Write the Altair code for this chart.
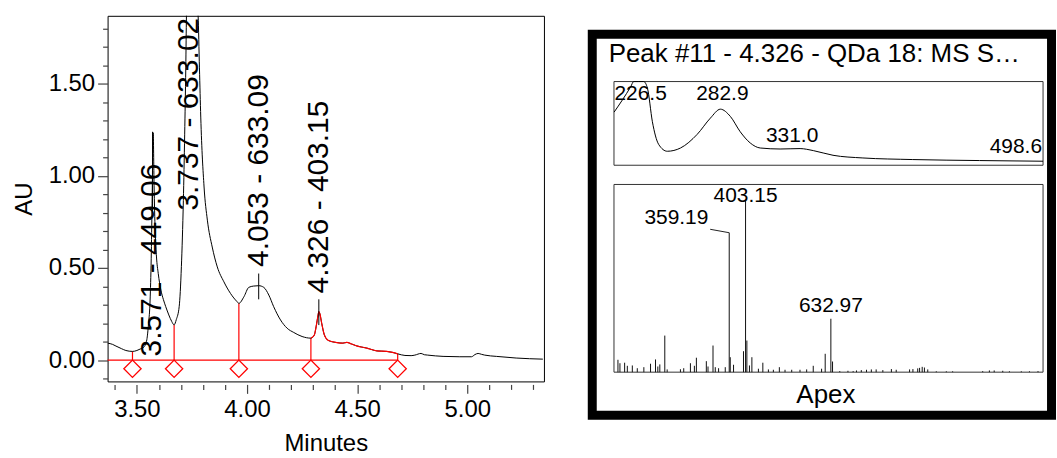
import altair as alt
import pandas as pd

FONT = "Liberation Sans"

# ---------------- chromatogram (left panel) ----------------
rt = [3.367, 3.39, 3.405, 3.43, 3.45, 3.48, 3.50, 3.515, 3.533, 3.545, 3.553, 3.56,
      3.565, 3.569, 3.574, 3.578, 3.583, 3.589, 3.597, 3.609, 3.62, 3.631, 3.645,
      3.658, 3.669, 3.679, 3.692, 3.702, 3.711, 3.717, 3.722, 3.725, 3.737, 3.75,
      3.765, 3.778, 3.784, 3.79, 3.805, 3.82, 3.842, 3.865, 3.895, 3.925, 3.955,
      3.963, 3.986, 4.008, 4.03, 4.053, 4.076, 4.099, 4.121, 4.152, 4.182, 4.212,
      4.25, 4.29, 4.305, 4.315, 4.322, 4.326, 4.331, 4.339, 4.351, 4.37, 4.408,
      4.435, 4.453, 4.475, 4.498, 4.544, 4.589, 4.634, 4.66, 4.684, 4.717, 4.745,
      4.762, 4.79, 4.805, 4.82, 4.89, 4.966, 5.019, 5.035, 5.049, 5.065, 5.079,
      5.132, 5.222, 5.343]
au = [0.092, 0.085, 0.076, 0.062, 0.052, 0.047, 0.052, 0.060, 0.072, 0.110, 0.200, 0.326,
      0.55, 0.85, 1.235, 0.95, 0.70, 0.56, 0.47, 0.38, 0.33, 0.29, 0.245,
      0.21, 0.191, 0.22, 0.29, 0.507, 0.866, 1.227, 1.587, 1.87, 2.30, 2.25,
      2.05, 1.87, 1.587, 1.32, 0.94, 0.76, 0.614, 0.506, 0.425, 0.362, 0.317,
      0.308, 0.344, 0.395, 0.402, 0.404, 0.395, 0.353, 0.29, 0.218, 0.173, 0.15,
      0.128, 0.119, 0.135, 0.19, 0.24, 0.263, 0.25, 0.20, 0.137, 0.106, 0.095,
      0.092, 0.096, 0.087, 0.077, 0.065, 0.05, 0.047, 0.042, 0.034, 0.025, 0.024,
      0.027, 0.036, 0.029, 0.027, 0.02, 0.018, 0.018, 0.03, 0.036, 0.031, 0.027,
      0.02, 0.011, 0.005]

peak_rt = [3.571, 3.737, 4.053, 4.326]
peak_names = ["3.571 - 449.06", "3.737 - 633.02", "4.053 - 633.09", "4.326 - 403.15"]
peak_label_au = [0.02, 0.812, 0.506, 0.362]

apex_rt = [3.571, 4.053, 4.326]
apex_lo = [0.80, 0.33, 0.19]
apex_hi = [1.24, 0.47, 0.33]

bound_rt = [3.48, 3.669, 3.963, 4.29, 4.684]
bound_au = [0.047, 0.191, 0.308, 0.119, 0.034]
marker_au = -0.047

x_ticks = [3.4, 3.5, 3.6, 3.7, 3.8, 3.9, 4.0, 4.1, 4.2, 4.3, 4.4, 4.5, 4.6, 4.7,
           4.8, 4.9, 5.0, 5.1, 5.2, 5.3]
y_ticks = [-0.1, 0.0, 0.1, 0.2, 0.3, 0.4, 0.5, 0.6, 0.7, 0.8, 0.9, 1.0, 1.1, 1.2,
           1.3, 1.4, 1.5, 1.6, 1.7, 1.8]

X_DOM = [3.367, 5.348]
Y_DOM = [-0.116, 1.870]

# ---------------- UV spectrum (right panel, top) ----------------
uv_nm = [209.6, 221.1, 223.1, 226.6, 230.0, 232.6, 236.0, 240.3, 246.3, 255.4, 266.9,
         276.0, 282.9, 289.8, 296.6, 303.5, 310.4, 324.1, 337.9, 347.0, 360.6, 381.2,
         415.6, 461.6, 505.5]
uv_abs = [0.635, 0.94, 1.0, 1.15, 1.0, 0.92, 0.52, 0.25, 0.167, 0.206, 0.369,
          0.563, 0.67, 0.583, 0.40, 0.266, 0.206, 0.194, 0.199, 0.175, 0.119, 0.087,
          0.068, 0.056, 0.048]
uv_label_nm = [226.5, 282.9, 331.0]
uv_label_text = ["226.5", "282.9", "331.0"]
uv_label_abs = [0.782, 0.782, 0.277]
uv_end_label_nm = [498.6]
uv_end_label_text = ["498.6"]
uv_end_label_abs = [0.146]
UV_DOM = [209.5, 505.5]

# ---------------- MS spectrum (right panel, bottom) ----------------
ms_mz = [59.4, 64.8, 77.4, 84.7, 98.1, 111.5, 129.2, 147.2, 160.6, 166.8, 172.2, 185.6,
         192.0, 227.7, 236.6, 254.6, 265.3, 270.7, 297.5, 302.0, 315.5, 321.6, 330.5,
         348.5, 359.19, 361.9, 370.8, 397.6, 403.15, 406.7, 413.7, 420.2, 437.8, 449.7,
         464.7, 478.1, 494.2, 509.5, 527.5, 549.8, 567.8, 585.5, 608.0, 617.7, 632.97,
         637.5, 657.0, 679.0, 693.0, 702.0, 715.0, 729.0, 742.0, 755.0, 773.0, 796.0,
         809.0, 845.0, 854.0, 867.0, 872.0, 879.0, 885.0, 894.0, 917.0, 944.0, 961.0,
         1042.0, 1060.0, 1073.0, 1096.0, 1114.0, 1146.0, 1168.0, 1191.0]
ms_int = [7.2, 5.2, 5.5, 3.7, 3.9, 2.3, 2.9, 4.9, 7.4, 3.3, 4.5, 21.3,
          1.6, 1.7, 2.3, 5.2, 3.7, 8.4, 6.4, 3.3, 15.5, 2.9, 2.3,
          2.9, 81.2, 8.7, 4.3, 12.2, 100.0, 18.4, 3.9, 8.7, 2.0, 5.5,
          1.6, 1.4, 2.9, 1.4, 1.4, 1.4, 1.6, 3.7, 2.0, 10.7, 31.1,
          6.2, 0.6, 0.8, 0.6, 1.0, 1.2, 1.4, 1.6, 1.6, 1.2, 1.8,
          1.4, 1.6, 1.8, 2.2, 2.5, 3.1, 2.7, 1.6, 0.5, 0.5, 0.5,
          0.6, 1.0, 1.0, 0.8, 0.5, 0.5, 0.5, 0.6]
ms_label_mz = [403.15, 632.97]
ms_label_text = ["403.15", "632.97"]
ms_label_int = [99.0, 34.8]
ms_side_label_mz = [302.9]
ms_side_label_text = ["359.19"]
ms_side_label_int = [86.1]
ms_leader_mz = [307.9, 359.19]
ms_leader_int = [83.2, 81.2]
MS_DOM = [48.7, 1204.6]
MS_INT_DOM = [0, 109.3]

panel_title = "Peak #11 - 4.326 - QDa 18: MS S\u2026"

# ================= left chart =================
xsc = alt.Scale(domain=X_DOM, nice=False, zero=False)
ysc = alt.Scale(domain=Y_DOM, nice=False, zero=False)
x_major = "abs(datum.value * 2 - round(datum.value * 2)) < 0.01"

x_axis = alt.Axis(values=x_ticks, title="Minutes", grid=False, domain=False, offset=3,
                  labelExpr=f"{x_major} ? format(datum.value, '.2f') : ''",
                  tickSize={"condition": {"test": x_major, "value": 9}, "value": 5},
                  tickColor="#444", tickWidth=1.2, labelFontSize=24, titleFontSize=24,
                  titleFontWeight="normal", labelColor="black", titleColor="black",
                  labelPadding=4, titlePadding=10, labelOverlap=False, labelFlush=False)
y_axis = alt.Axis(values=y_ticks, title="AU", grid=False, domain=False,
                  labelExpr=f"{x_major} ? format(datum.value, '.2f') : ''",
                  tickSize={"condition": {"test": x_major, "value": 10}, "value": 5},
                  tickColor="#444", tickWidth=1.2, labelFontSize=24, titleFontSize=24,
                  titleFontWeight="normal", labelColor="black", titleColor="black",
                  labelPadding=3, titlePadding=12, labelOverlap=False, labelFlush=False)

trace_df = pd.DataFrame({"t": rt, "au": au})
X = alt.X("t:Q", scale=xsc, axis=x_axis)
Y = alt.Y("au:Q", scale=ysc, axis=y_axis)

baseline = alt.Chart(pd.DataFrame({"t": [X_DOM[0]], "t2": [bound_rt[-1]], "au": [0.0]})).mark_rule(
    color="red", strokeWidth=1.2).encode(x=X, x2="t2:Q", y=Y)
drops = alt.Chart(pd.DataFrame({"t": bound_rt, "au": [0.0] * len(bound_rt), "top": bound_au})).mark_rule(
    color="red", strokeWidth=1.2).encode(x=X, y=Y, y2="top:Q")
diamonds = alt.Chart(pd.DataFrame({"t": bound_rt, "au": [marker_au] * len(bound_rt)})).mark_point(
    shape="diamond", filled=False, color="red", size=300, strokeWidth=1.3, opacity=1).encode(x=X, y=Y)
trace = alt.Chart(trace_df).mark_line(color="black", strokeWidth=1, clip=True,
                                      interpolate="monotone").encode(x=X, y=Y)
trace_red = alt.Chart(trace_df).transform_filter(
    f"datum.t >= {bound_rt[3]} && datum.t <= {bound_rt[4]}").mark_line(
    color="red", strokeWidth=1.2, interpolate="monotone").encode(x=X, y=Y)
apex = alt.Chart(pd.DataFrame({"t": apex_rt, "au": apex_lo, "hi": apex_hi})).mark_rule(
    color="black", strokeWidth=1).encode(x=X, y=Y, y2="hi:Q")
labels = alt.Chart(pd.DataFrame({"t": peak_rt, "au": peak_label_au, "name": peak_names})).mark_text(
    angle=270, align="left", baseline="middle", fontSize=30, color="black").encode(
    x=X, y=Y, text="name:N")

left = alt.layer(baseline, drops, diamonds, trace, trace_red, apex, labels).properties(
    width=438, height=367, view=alt.ViewBackground(stroke="black", strokeWidth=1))

# ================= right chart =================
one = pd.DataFrame({"k": [0]})
uvx = alt.Scale(domain=UV_DOM, range=[38.3, 469], nice=False, zero=False)
uvy = alt.Scale(domain=[0, 1], range=[150, 66], nice=False, zero=False, clamp=True)
msx = alt.Scale(domain=MS_DOM, range=[38.3, 469], nice=False, zero=False)
msy = alt.Scale(domain=MS_INT_DOM, range=[357.7, 169.3], nice=False, zero=False)

frame = alt.Chart(one).mark_rect(fillOpacity=0, stroke="black", strokeWidth=9).encode(
    x=alt.value(16.5), x2=alt.value(477.5), y=alt.value(18.5), y2=alt.value(401))
title = alt.Chart(one).mark_text(align="left", baseline="alphabetic", fontSize=26, color="black").encode(
    x=alt.value(33), y=alt.value(46), text=alt.value(panel_title))
apex_txt = alt.Chart(one).mark_text(align="center", baseline="alphabetic", fontSize=26, color="black").encode(
    x=alt.value(251), y=alt.value(389), text=alt.value("Apex"))

uv_box = alt.Chart(pd.DataFrame({"a": [UV_DOM[0]], "b": [UV_DOM[1]], "c": [0], "d": [1]})).mark_rect(
    fillOpacity=0, stroke="#333", strokeWidth=1).encode(
    x=alt.X("a:Q", scale=uvx, axis=None), x2="b:Q",
    y=alt.Y("c:Q", scale=uvy, axis=None), y2="d:Q")
uv_line = alt.Chart(pd.DataFrame({"nm": uv_nm, "a": uv_abs})).mark_line(
    color="black", strokeWidth=1, interpolate="monotone").encode(
    x=alt.X("nm:Q", scale=uvx, axis=None), y=alt.Y("a:Q", scale=uvy, axis=None))
uv_lab = alt.Chart(pd.DataFrame({"nm": uv_label_nm, "a": uv_label_abs, "s": uv_label_text})).mark_text(
    align="center", baseline="alphabetic", fontSize=21, color="black", dx=2).encode(
    x=alt.X("nm:Q", scale=uvx, axis=None), y=alt.Y("a:Q", scale=uvy, axis=None), text="s:N")
uv_lab_end = alt.Chart(pd.DataFrame({"nm": uv_end_label_nm, "a": uv_end_label_abs,
                                     "s": uv_end_label_text})).mark_text(
    align="right", baseline="alphabetic", fontSize=21, color="black", dx=9).encode(
    x=alt.X("nm:Q", scale=uvx, axis=None), y=alt.Y("a:Q", scale=uvy, axis=None), text="s:N")

ms_box = alt.Chart(pd.DataFrame({"a": [MS_DOM[0]], "b": [MS_DOM[1]], "c": [MS_INT_DOM[0]],
                                 "d": [MS_INT_DOM[1]]})).mark_rect(
    fillOpacity=0, stroke="#333", strokeWidth=1).encode(
    x=alt.X("a:Q", scale=msx, axis=None), x2="b:Q",
    y=alt.Y("c:Q", scale=msy, axis=None), y2="d:Q")
ms_sticks = alt.Chart(pd.DataFrame({"mz": ms_mz, "z": [0.0] * len(ms_mz), "i": ms_int})).mark_rule(
    color="#111", strokeWidth=1).encode(
    x=alt.X("mz:Q", scale=msx, axis=None), y=alt.Y("z:Q", scale=msy, axis=None), y2="i:Q")
ms_lab = alt.Chart(pd.DataFrame({"mz": ms_label_mz, "i": ms_label_int, "s": ms_label_text})).mark_text(
    align="center", baseline="alphabetic", fontSize=21, color="black").encode(
    x=alt.X("mz:Q", scale=msx, axis=None), y=alt.Y("i:Q", scale=msy, axis=None), text="s:N")
ms_side = alt.Chart(pd.DataFrame({"mz": ms_side_label_mz, "i": ms_side_label_int,
                                  "s": ms_side_label_text})).mark_text(
    align="right", baseline="alphabetic", fontSize=21, color="black").encode(
    x=alt.X("mz:Q", scale=msx, axis=None), y=alt.Y("i:Q", scale=msy, axis=None), text="s:N")
ms_leader = alt.Chart(pd.DataFrame({"mz": ms_leader_mz, "i": ms_leader_int})).mark_line(
    color="#222", strokeWidth=1).encode(
    x=alt.X("mz:Q", scale=msx, axis=None), y=alt.Y("i:Q", scale=msy, axis=None))

right = alt.layer(frame, title, apex_txt, uv_box, uv_line, uv_lab, uv_lab_end,
                  ms_box, ms_sticks, ms_leader, ms_lab, ms_side).resolve_scale(
    x="independent", y="independent").properties(
    width=482, height=410, view=alt.ViewBackground(fill="white", stroke="transparent"))

chart = alt.hconcat(left, right, spacing=30).properties(
    padding={"left": 11, "top": 14, "right": 0, "bottom": 0},
    background="white").configure(font=FONT)

chart.save("out.html", embed_options={"renderer": "svg", "actions": False})
